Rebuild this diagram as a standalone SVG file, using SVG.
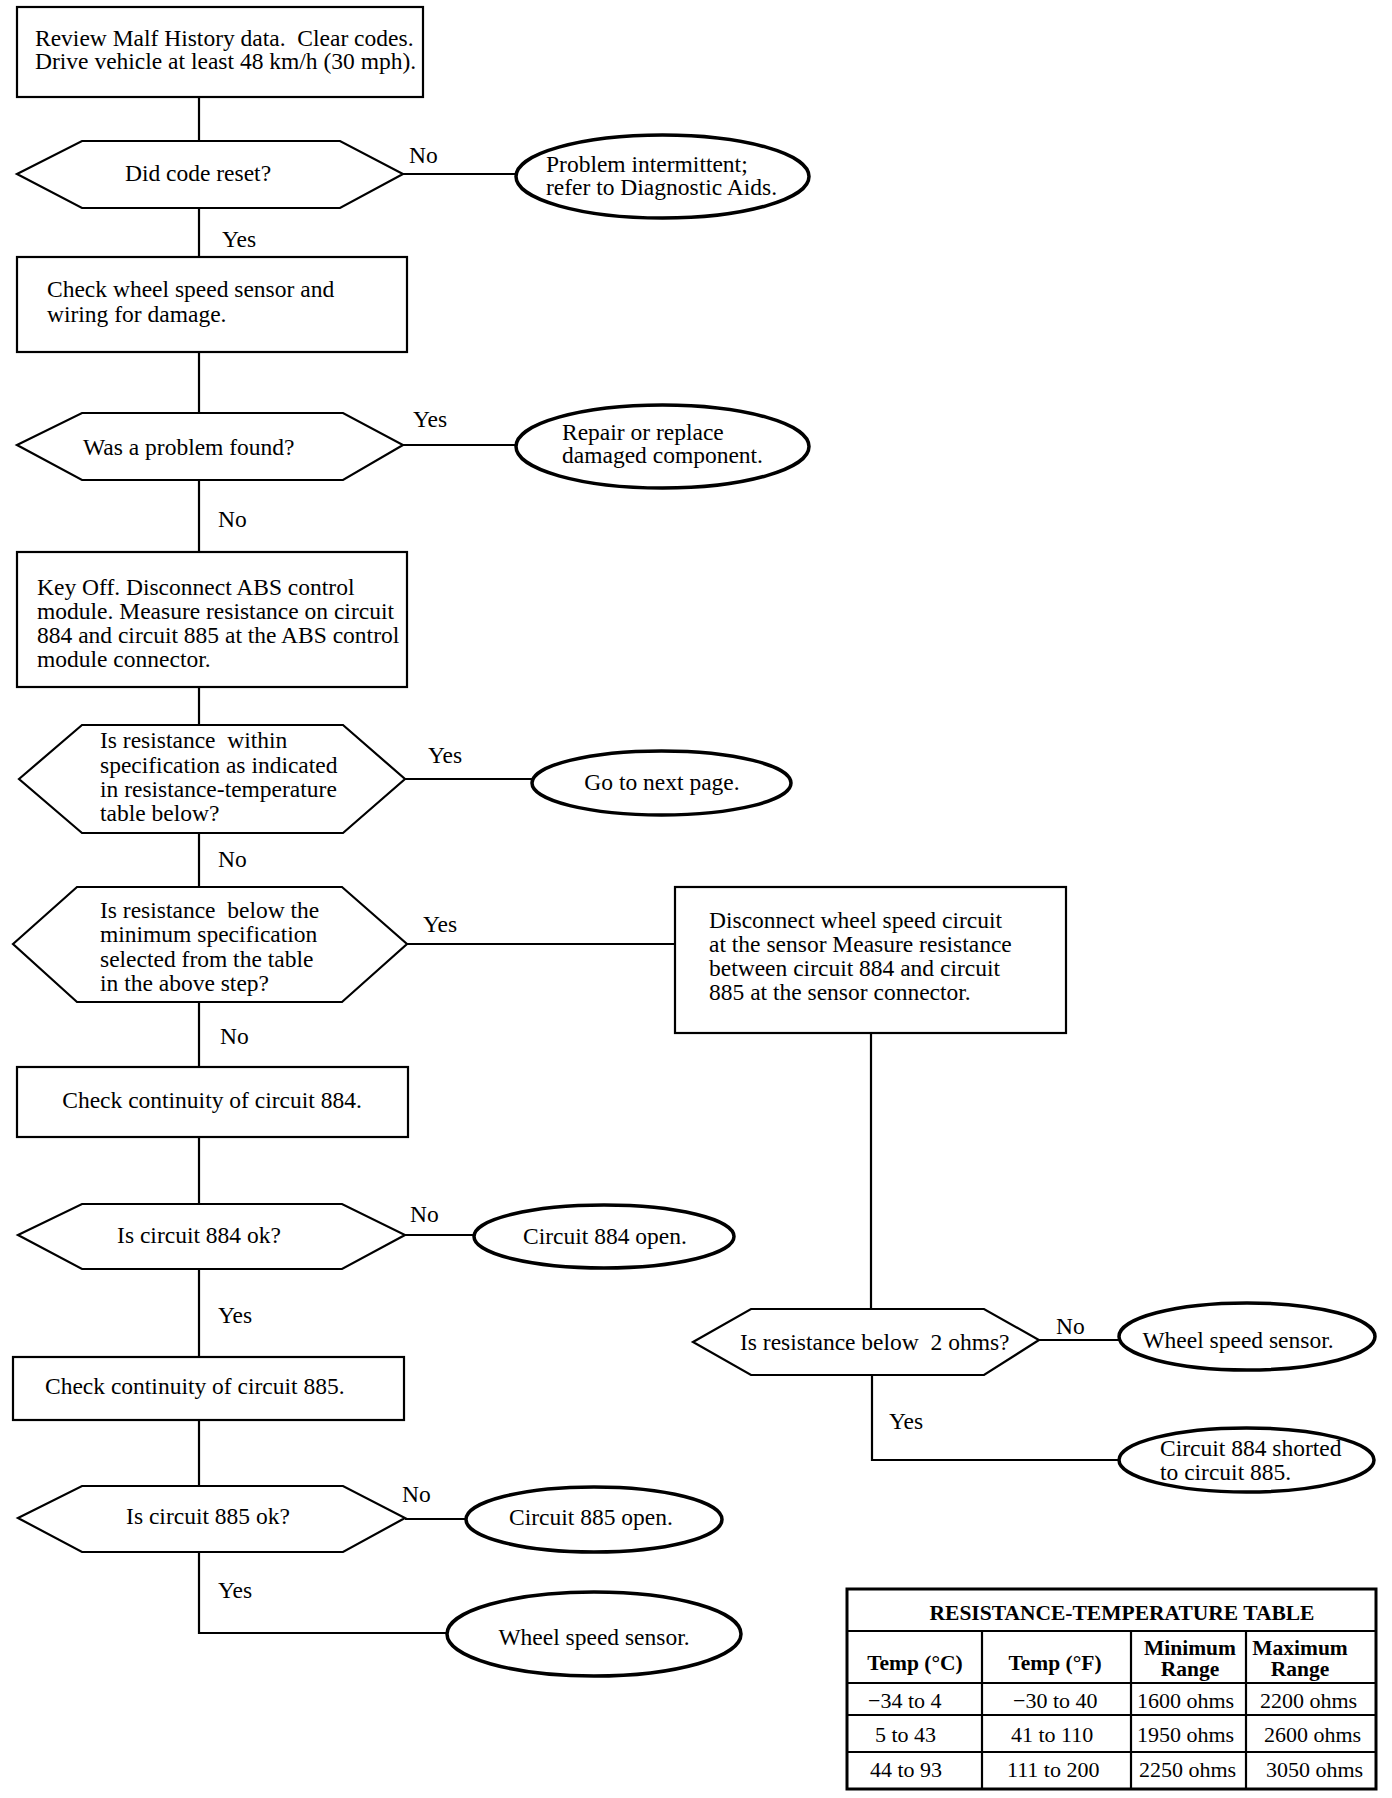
<svg xmlns="http://www.w3.org/2000/svg" width="1392" height="1798" viewBox="0 0 1392 1798" xml:space="preserve">
<style>
.bx{fill:#fff;stroke:#000;stroke-width:2.2}
.tm{fill:#fff;stroke:#000;stroke-width:3.5}
.ln{fill:none;stroke:#000;stroke-width:2.2}
text{font-family:"Liberation Serif","Times New Roman",serif;font-size:23.5px;fill:#000;white-space:pre}
.c{text-anchor:middle}
.th{font-weight:bold;font-size:21.5px}
.td{font-size:22px}
</style>
<rect width="1392" height="1798" fill="#fff"/>
<g id="connectors">
<line class="ln" x1="199" y1="97" x2="199" y2="141"/>
<line class="ln" x1="403" y1="174" x2="516" y2="174"/>
<line class="ln" x1="199" y1="208" x2="199" y2="257"/>
<line class="ln" x1="199" y1="352" x2="199" y2="413"/>
<line class="ln" x1="403" y1="445" x2="516" y2="445"/>
<line class="ln" x1="199" y1="480" x2="199" y2="552"/>
<line class="ln" x1="199" y1="687" x2="199" y2="725"/>
<line class="ln" x1="405" y1="779" x2="532" y2="779"/>
<line class="ln" x1="199" y1="833" x2="199" y2="887"/>
<line class="ln" x1="407" y1="944" x2="675" y2="944"/>
<line class="ln" x1="199" y1="1002" x2="199" y2="1067"/>
<line class="ln" x1="199" y1="1137" x2="199" y2="1204"/>
<line class="ln" x1="405" y1="1235" x2="474" y2="1235"/>
<line class="ln" x1="199" y1="1269" x2="199" y2="1357"/>
<line class="ln" x1="199" y1="1420" x2="199" y2="1486"/>
<line class="ln" x1="405" y1="1519" x2="466" y2="1519"/>
<polyline class="ln" points="199,1552 199,1633 447,1633"/>
<line class="ln" x1="871" y1="1033" x2="871" y2="1309"/>
<line class="ln" x1="1039" y1="1340" x2="1119" y2="1340"/>
<polyline class="ln" points="872,1375 872,1460 1119,1460"/>
<text x="409" y="163">No</text>
<text x="222" y="247">Yes</text>
<text x="413" y="427">Yes</text>
<text x="218" y="527">No</text>
<text x="428" y="763">Yes</text>
<text x="218" y="867">No</text>
<text x="423" y="932">Yes</text>
<text x="220" y="1044">No</text>
<text x="410" y="1222">No</text>
<text x="218" y="1323">Yes</text>
<text x="402" y="1502">No</text>
<text x="218" y="1598">Yes</text>
<text x="1056" y="1334">No</text>
<text x="889" y="1429">Yes</text>
</g>
<g id="n1"><rect class="bx" x="17" y="7" width="406" height="90"/>
<text x="35" y="46">Review Malf History data.  Clear codes.</text>
<text x="35" y="69">Drive vehicle at least 48 km/h (30 mph).</text></g>
<g id="n2"><polygon class="bx" points="17,174 82,141 340,141 403,174 340,208 82,208"/>
<text class="c" x="198" y="181">Did code reset?</text></g>
<g id="n3"><ellipse class="tm" cx="662.5" cy="176.5" rx="146.5" ry="41.5"/>
<text x="546" y="172">Problem intermittent;</text>
<text x="546" y="195">refer to Diagnostic Aids.</text></g>
<g id="n4"><rect class="bx" x="17" y="257" width="390" height="95"/>
<text x="47" y="297">Check wheel speed sensor and</text>
<text x="47" y="322">wiring for damage.</text></g>
<g id="n5"><polygon class="bx" points="17,445 82,413 343,413 403,445 343,480 82,480"/>
<text x="83" y="455">Was a problem found?</text></g>
<g id="n6"><ellipse class="tm" cx="662.5" cy="446.5" rx="146.5" ry="41.5"/>
<text x="562" y="440">Repair or replace</text>
<text x="562" y="463">damaged component.</text></g>
<g id="n7"><rect class="bx" x="17" y="552" width="390" height="135"/>
<text x="37" y="595">Key Off. Disconnect ABS control</text>
<text x="37" y="619">module. Measure resistance on circuit</text>
<text x="37" y="643">884 and circuit 885 at the ABS control</text>
<text x="37" y="667">module connector.</text></g>
<g id="n8"><polygon class="bx" points="19,779 82,725 343,725 405,779 343,833 82,833"/>
<text x="100" y="748">Is resistance  within</text>
<text x="100" y="773">specification as indicated</text>
<text x="100" y="797">in resistance-temperature</text>
<text x="100" y="821">table below?</text></g>
<g id="n9"><ellipse class="tm" cx="661.5" cy="783" rx="129.5" ry="32"/>
<text class="c" x="662" y="790">Go to next page.</text></g>
<g id="n10"><polygon class="bx" points="13,944 77,887 342,887 407,944 342,1002 77,1002"/>
<text x="100" y="918">Is resistance  below the</text>
<text x="100" y="942">minimum specification</text>
<text x="100" y="967">selected from the table</text>
<text x="100" y="991">in the above step?</text></g>
<g id="n11"><rect class="bx" x="675" y="887" width="391" height="146"/>
<text x="709" y="928">Disconnect wheel speed circuit</text>
<text x="709" y="952">at the sensor Measure resistance</text>
<text x="709" y="976">between circuit 884 and circuit</text>
<text x="709" y="1000">885 at the sensor connector.</text></g>
<g id="n12"><rect class="bx" x="17" y="1067" width="391" height="70"/>
<text class="c" x="212" y="1108">Check continuity of circuit 884.</text></g>
<g id="n13"><polygon class="bx" points="18,1235 82,1204 342,1204 405,1235 342,1269 82,1269"/>
<text class="c" x="199" y="1243">Is circuit 884 ok?</text></g>
<g id="n14"><ellipse class="tm" cx="604" cy="1236.5" rx="130" ry="31.5"/>
<text class="c" x="605" y="1244">Circuit 884 open.</text></g>
<g id="n15"><rect class="bx" x="13" y="1357" width="391" height="63"/>
<text x="45" y="1394">Check continuity of circuit 885.</text></g>
<g id="n16"><polygon class="bx" points="18,1518 82,1486 343,1486 405,1518 343,1552 82,1552"/>
<text class="c" x="208" y="1524">Is circuit 885 ok?</text></g>
<g id="n17"><ellipse class="tm" cx="594" cy="1519.5" rx="128" ry="32.5"/>
<text class="c" x="591" y="1525">Circuit 885 open.</text></g>
<g id="n18"><ellipse class="tm" cx="594" cy="1634" rx="147" ry="42"/>
<text class="c" x="594" y="1645">Wheel speed sensor.</text></g>
<g id="n19"><polygon class="bx" points="693,1342 751,1309 984,1309 1039,1340 984,1375 751,1375"/>
<text x="740" y="1350">Is resistance below  2 ohms?</text></g>
<g id="n20"><ellipse class="tm" cx="1247" cy="1336.5" rx="128" ry="33.5"/>
<text class="c" x="1238" y="1348">Wheel speed sensor.</text></g>
<g id="n21"><ellipse class="tm" cx="1246.5" cy="1460" rx="127.5" ry="32"/>
<text x="1160" y="1456">Circuit 884 shorted</text>
<text x="1160" y="1480">to circuit 885.</text></g>
<g id="table">
<rect x="847" y="1589" width="529" height="200" fill="#fff" stroke="#000" stroke-width="3"/>
<line class="ln" x1="847" y1="1631" x2="1376" y2="1631"/>
<line class="ln" x1="847" y1="1683" x2="1376" y2="1683"/>
<line class="ln" x1="847" y1="1715" x2="1376" y2="1715"/>
<line class="ln" x1="847" y1="1752" x2="1376" y2="1752"/>
<line class="ln" x1="982" y1="1631" x2="982" y2="1789"/>
<line class="ln" x1="1131" y1="1631" x2="1131" y2="1789"/>
<line class="ln" x1="1246" y1="1631" x2="1246" y2="1789"/>
<text class="th c" x="1122" y="1620">RESISTANCE-TEMPERATURE TABLE</text>
<text class="th c" x="915" y="1670">Temp (°C)</text>
<text class="th c" x="1055" y="1670">Temp (°F)</text>
<text class="th c" x="1190" y="1655">Minimum</text>
<text class="th c" x="1190" y="1676">Range</text>
<text class="th c" x="1300" y="1655">Maximum</text>
<text class="th c" x="1300" y="1676">Range</text>
<text class="td" x="868" y="1708">−34 to 4</text>
<text class="td" x="1013" y="1708">−30 to 40</text>
<text class="td" x="1137" y="1708">1600 ohms</text>
<text class="td" x="1260" y="1708">2200 ohms</text>
<text class="td" x="875" y="1742">5 to 43</text>
<text class="td" x="1011" y="1742">41 to 110</text>
<text class="td" x="1137" y="1742">1950 ohms</text>
<text class="td" x="1264" y="1742">2600 ohms</text>
<text class="td" x="870" y="1777">44 to 93</text>
<text class="td" x="1007" y="1777">111 to 200</text>
<text class="td" x="1139" y="1777">2250 ohms</text>
<text class="td" x="1266" y="1777">3050 ohms</text>
</g>
</svg>
